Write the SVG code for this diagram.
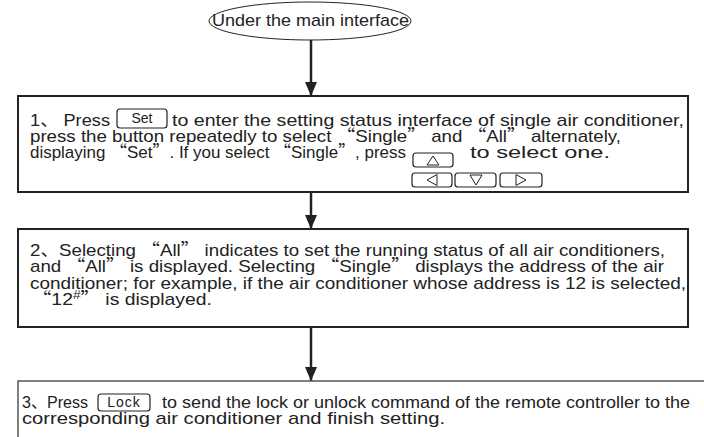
<svg xmlns="http://www.w3.org/2000/svg" width="704" height="437" viewBox="0 0 704 437">
<style>
.t{font-family:"Liberation Sans",Arial,"Noto Sans CJK SC",sans-serif;font-size:17px;fill:#222}
.q{font-family:"Noto Sans CJK SC",sans-serif}
.b{font-family:"Liberation Sans",Arial,sans-serif;font-size:14px;fill:#222}
.box{fill:none;stroke:#222;stroke-width:2}
.btn{fill:#fff;stroke:#222;stroke-width:1.2}
.tri{fill:none;stroke:#222;stroke-width:1}
.conn{stroke:#222;stroke-width:2.5;fill:none}
</style>
<defs>
<marker id="ah" markerWidth="14" markerHeight="12" refX="14" refY="6" orient="auto" markerUnits="userSpaceOnUse">
<path d="M0,0 L14,6 L0,12 Z" fill="#222"/>
</marker>
</defs>
<rect width="704" height="437" fill="#fff"/>
<g id="connectors">
<line class="conn" x1="311" y1="40" x2="311" y2="96" marker-end="url(#ah)"/>
<line class="conn" x1="311" y1="192" x2="311" y2="229" marker-end="url(#ah)"/>
<line class="conn" x1="311" y1="327" x2="311" y2="381" marker-end="url(#ah)"/>
</g>
<g id="start">
<ellipse cx="310" cy="21" rx="101" ry="19" fill="none" stroke="#222" stroke-width="1"/>
<text class="t" x="212" y="26" font-size="16" textLength="197" lengthAdjust="spacingAndGlyphs">Under the main interface</text>
</g>
<g id="step1">
<rect class="box" x="18" y="96" width="670" height="96"/>
<text class="t" x="30" y="126" textLength="80" lengthAdjust="spacingAndGlyphs">1、 Press</text>
<rect class="btn" x="117" y="109" width="50" height="19" rx="3"/>
<text class="b" x="142" y="123" text-anchor="middle">Set</text>
<text class="t" x="172" y="126" textLength="512" lengthAdjust="spacingAndGlyphs">to enter the setting status interface of single air conditioner,</text>
<text class="t" x="30" y="142" textLength="591" lengthAdjust="spacingAndGlyphs">press the button repeatedly to select <tspan class="q">“</tspan>Single<tspan class="q">”</tspan> and <tspan class="q">“</tspan>All<tspan class="q">”</tspan> alternately,</text>
<text class="t" x="30" y="158" textLength="376" lengthAdjust="spacingAndGlyphs">displaying <tspan class="q">“</tspan>Set<tspan class="q">”</tspan>. If you select <tspan class="q">“</tspan>Single<tspan class="q">”</tspan>, press</text>
<rect class="btn" x="413" y="153" width="40" height="14" rx="3"/>
<path class="tri" d="M427,165 L433,156 L439,165 Z"/>
<text class="t" x="470" y="158" textLength="140" lengthAdjust="spacingAndGlyphs">to select one.</text>
<rect class="btn" x="412" y="173" width="40" height="14" rx="3"/>
<path class="tri" d="M437,174.5 L427,180 L437,185.5 Z"/>
<rect class="btn" x="455" y="173" width="41" height="14" rx="3"/>
<path class="tri" d="M470,175 L482,175 L476,185 Z"/>
<rect class="btn" x="500" y="173" width="42" height="14" rx="3"/>
<path class="tri" d="M516,174.5 L526,180 L516,185.5 Z"/>
</g>
<g id="step2">
<rect class="box" x="18" y="229" width="670" height="98"/>
<text class="t" x="30" y="256" textLength="635" lengthAdjust="spacingAndGlyphs">2、Selecting <tspan class="q">“</tspan>All<tspan class="q">”</tspan> indicates to set the running status of all air conditioners,</text>
<text class="t" x="30" y="272" textLength="634" lengthAdjust="spacingAndGlyphs">and <tspan class="q">“</tspan>All<tspan class="q">”</tspan> is displayed. Selecting <tspan class="q">“</tspan>Single<tspan class="q">”</tspan> displays the address of the air</text>
<text class="t" x="30" y="289" textLength="656" lengthAdjust="spacingAndGlyphs">conditioner; for example, if the air conditioner whose address is 12 is selected,</text>
<text class="t" x="32" y="305" textLength="180" lengthAdjust="spacingAndGlyphs"><tspan class="q">“</tspan>12<tspan font-size="12" dy="-6">#</tspan><tspan class="q" dy="6">”</tspan> is displayed.</text>
</g>
<g id="step3">
<path d="M18,437 L18,381 L704,381" fill="none" stroke="#555" stroke-width="1.5"/>
<text class="t" x="22" y="408" textLength="66" lengthAdjust="spacingAndGlyphs">3、Press</text>
<rect class="btn" x="98" y="394" width="52" height="17" rx="3"/>
<text class="b" x="124" y="407" text-anchor="middle" font-size="13" letter-spacing="1">Lock</text>
<text class="t" x="162" y="408" textLength="528" lengthAdjust="spacingAndGlyphs">to send the lock or unlock command of the remote controller to the</text>
<text class="t" x="22" y="424" textLength="423" lengthAdjust="spacingAndGlyphs">corresponding air conditioner and finish setting.</text>
</g>
</svg>
